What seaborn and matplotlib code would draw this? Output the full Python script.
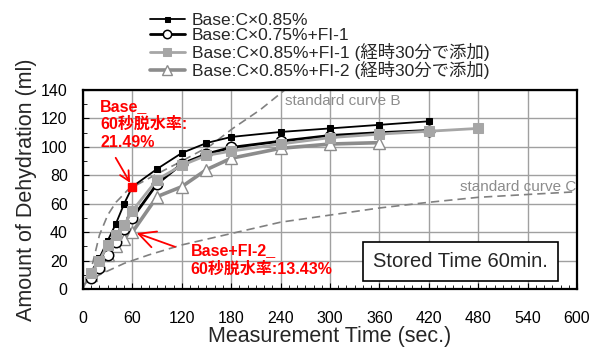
import numpy as np
import pandas as pd
import matplotlib
matplotlib.use("Agg")
import matplotlib.pyplot as plt
import seaborn as sns

# data
time = [10, 20, 30, 40, 50, 60, 90, 120, 150, 180, 240, 300, 360, 420]
base = [12, 22, 34, 46, 60, 72, 84.5, 95.7, 102.7, 107, 110.5, 113, 115.5, 118]
c075_fi1 = [8, 15, 24, 33, 42, 50, 74, 88, 95, 99.6, 104, 108, 110, 111.5]
time_fi1 = [10, 20, 30, 40, 50, 60, 90, 120, 150, 180, 240, 300, 360, 420, 480]
fi1_30 = [11, 20, 31, 38, 45, 55, 77, 87, 94, 97, 102, 106.5, 109, 111, 113]
time_fi2 = [10, 20, 30, 40, 50, 60, 90, 120, 150, 180, 240, 300, 360]
fi2_30 = [10, 17, 24, 30, 35, 40, 65, 72, 84, 92, 99, 102, 103]

# standard curves (dashed)
time_b = [0, 10, 20, 30, 40, 55, 90, 120, 155, 182, 215, 245]
curve_b = [0, 14, 38, 52, 61, 70, 81, 90, 101, 113, 126, 140]
time_c = [0, 20, 50, 80, 120, 180, 240, 300, 360, 420, 480, 540, 605]
curve_c = [3, 10, 18, 24, 31, 39, 47, 52, 57, 61, 64.5, 66.5, 68.6]

labels = ["Base:C×0.85%", "Base:C×0.75%+FI-1",
          "Base:C×0.85%+FI-1 (経時30分で添加)", "Base:C×0.85%+FI-2 (経時30分で添加)"]

sns.set_style("ticks")
plt.rcParams['font.family'] = ['Liberation Sans', 'Noto Sans CJK JP']

fig = plt.figure(figsize=(5.95, 3.49), dpi=100)
ax = fig.add_axes([0.1395, 0.172, 0.8302, 0.570])

# standard curves
sns.lineplot(x=time_b, y=curve_b, ax=ax, color="#808080", lw=1.2, linestyle=(0, (5, 3)), zorder=2)
sns.lineplot(x=time_c, y=curve_c, ax=ax, color="#808080", lw=1.2, linestyle=(0, (5, 3)), zorder=2)

sns.lineplot(x=time, y=base, ax=ax, color="black", lw=1.3, marker="s", markersize=4.5,
             markeredgecolor="black", label=labels[0], zorder=5)
sns.lineplot(x=time, y=c075_fi1, ax=ax, color="black", lw=2, marker="o", markersize=7.5,
             markerfacecolor="white", markeredgecolor="black", markeredgewidth=1.1,
             label=labels[1], zorder=4)
sns.lineplot(x=time_fi1, y=fi1_30, ax=ax, color="#A6A6A6", lw=2, marker="s", markersize=6.5,
             markerfacecolor="#A6A6A6", markeredgecolor="#A6A6A6", label=labels[2], zorder=6)
sns.lineplot(x=time_fi2, y=fi2_30, ax=ax, color="#8C8C8C", lw=2.6, marker="^", markersize=9,
             markerfacecolor="white", markeredgecolor="#8C8C8C", markeredgewidth=1,
             label=labels[3], zorder=3)

# highlighted point (Base at 60 s)
ax.plot([time[5]], [base[5]], marker="s", color="red", markersize=5.5, zorder=7, ls="none")

ax.set_xlim(0, 600)
ax.set_ylim(0, 140)
ax.set_xticks(np.arange(0, 601, 60))
ax.set_yticks(np.arange(0, 141, 20))
ax.set_xticks(np.arange(0, 601, 10), minor=True)
ax.set_yticks(np.arange(0, 141, 10), minor=True)
ax.grid(True, which="major", color="#A0A0A0", lw=1)
ax.tick_params(which="both", direction="in", colors="black")
ax.tick_params(which="major", length=4, labelsize=11.5)
ax.tick_params(axis="x", which="major", pad=16)
ax.tick_params(axis="y", which="major", pad=11)
ax.tick_params(which="minor", length=3)
for s in ax.spines.values():
    s.set_visible(True)
    s.set_linewidth(1.6)
    s.set_color("black")

ax.set_xlabel("Measurement Time (sec.)", fontsize=15.5, labelpad=0)
ax.set_ylabel("Amount of Dehydration (ml)", fontsize=15.5, labelpad=3)

# annotations
ax.text(21, 134, "Base_\n60秒脱水率:\n21.49%", color="red", fontsize=11.5, fontweight="bold",
        va="top", ha="left", linespacing=1.25, zorder=8)
ax.annotate("", xy=(59, 73), xytext=(38, 94),
            arrowprops=dict(arrowstyle="->, head_length=0.7, head_width=0.35", color="red", lw=1.3))
ax.text(131, 32, "Base+FI-2_\n60秒脱水率:13.43%", color="red", fontsize=11.5, fontweight="bold",
        va="top", ha="left", linespacing=1.25, zorder=8)
ax.annotate("", xy=(62, 40), xytext=(115, 29),
            arrowprops=dict(arrowstyle="->, head_length=1.2, head_width=0.6", color="red", lw=1.3))

ax.text(245, 132, "standard curve B", color="#8C8C8C", fontsize=11, va="center")
ax.text(458, 72, "standard curve C", color="#8C8C8C", fontsize=11, va="center")
ax.text(458, 19.5, "Stored Time 60min.", fontsize=14.5, ha="center", va="center", zorder=9,
        bbox=dict(boxstyle="square,pad=0.5", fc="white", ec="black", lw=1.2))

ax.legend(loc="upper left", bbox_to_anchor=(143 / 595, 1 - 6 / 349), bbox_transform=fig.transFigure,
          frameon=False, fontsize=12.5, labelspacing=0.0, handlelength=2.0, handletextpad=0.4,
          borderaxespad=0, markerscale=0.8)

fig.savefig("out.png", dpi=100)
